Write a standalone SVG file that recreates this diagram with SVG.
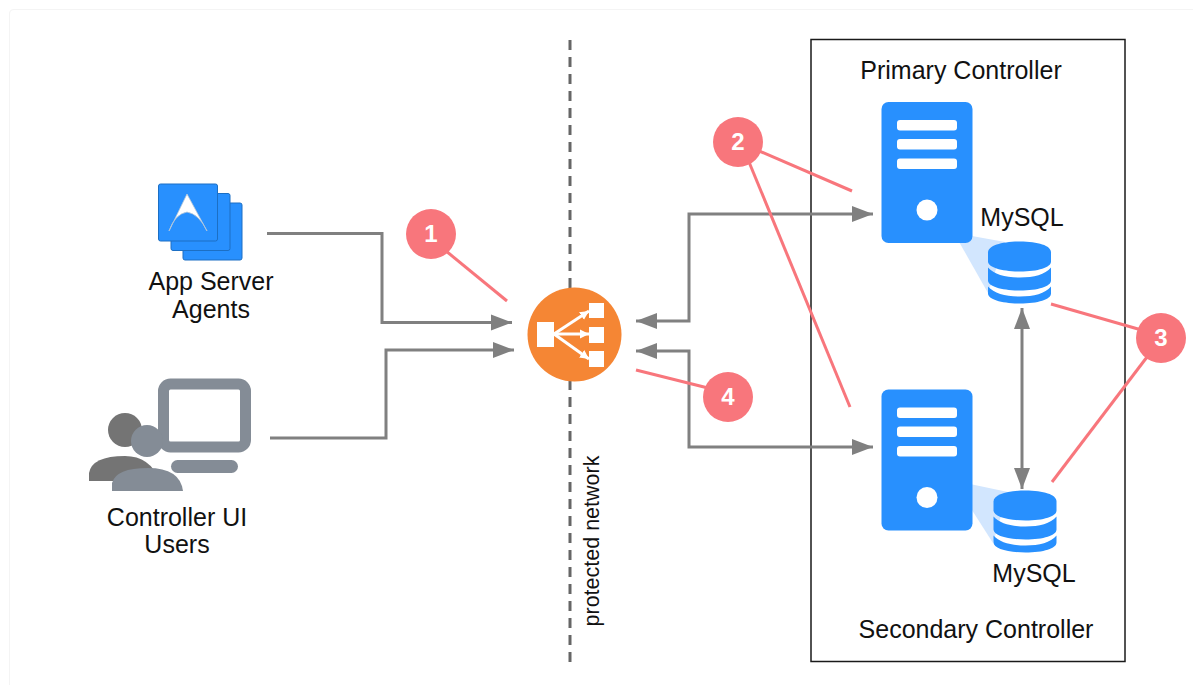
<svg xmlns="http://www.w3.org/2000/svg" width="1193" height="685" viewBox="0 0 1193 685">
<style>
text{font-family:"Liberation Sans",Arial,sans-serif;fill:#111;font-size:25px;text-anchor:middle}
.conn{fill:none;stroke:#808080;stroke-width:3}
.red{fill:none;stroke:#f8767c;stroke-width:3}
.badge circle{fill:#f8767c}
.badge text{fill:#fff;font-weight:bold;font-size:24px}
.blue{fill:#2890fe}
.white{fill:#fff}
.halo{fill:#d2e6fe}
.grey{fill:#848c96}
.dark{fill:#747474}
.fan{stroke:#fff;stroke-width:3;fill:none}
</style>
<defs>
<marker id="arr" markerUnits="userSpaceOnUse" markerWidth="22" markerHeight="18" refX="21" refY="9" orient="auto-start-reverse"><path d="M0 1L21 9L0 17z" fill="#808080"/></marker>
<marker id="tiny" markerUnits="userSpaceOnUse" markerWidth="10" markerHeight="10" refX="9" refY="5" orient="auto"><path d="M0 0.500L9 5L0 9.500z" fill="#fff"/></marker>
<g id="srv">
<rect x="0" y="0" width="91" height="141" rx="7" class="blue"/>
<rect x="15.500" y="18" width="60" height="10.500" rx="3" class="white"/>
<rect x="15.500" y="37" width="60" height="10.500" rx="3" class="white"/>
<rect x="15.500" y="56.500" width="60" height="10.500" rx="3" class="white"/>
<circle cx="45.500" cy="108" r="10.500" class="white"/>
</g>
<g id="db">
<path d="M0 11C0 4 14 0 32 0S63 4 63 11V20C63 26 50 30 32 30S0 26 0 20z" class="blue"/>
<path d="M0 26C6 33 18 36 32 36S57 33 63 26V39C63 45 50 49 32 49S0 45 0 39z" class="blue"/>
<path d="M0 45C6 52 18 55 32 55S57 52 63 45V52C63 58 50 62 32 62S0 58 0 52z" class="blue"/>
</g>
</defs>
<rect width="1193" height="685" fill="#fff"/>
<path d="M9.500 685V14Q9.500 9.500 14 9.500H1193" fill="none" stroke="#f4f4f4" stroke-width="1"/>

<g id="boundary">
<rect x="811" y="39.500" width="314" height="622" fill="none" stroke="#1a1a1a" stroke-width="1.500"/>
<line x1="570" y1="40" x2="570" y2="662" stroke="#666" stroke-width="3" stroke-dasharray="10 7"/>
<text x="595" y="541" transform="rotate(-90 595 541)" style="font-size:21.500px" dy="4">protected network</text>
</g>

<g id="connectors">
<path class="conn" d="M267 233.500H382V322.500H512" marker-end="url(#arr)"/>
<path class="conn" d="M270 438H386V350H514" marker-end="url(#arr)"/>
<path class="conn" d="M636 321H689V214H873" marker-start="url(#arr)" marker-end="url(#arr)"/>
<path class="conn" d="M636 351H689V447H873" marker-start="url(#arr)" marker-end="url(#arr)"/>
<path class="conn" d="M1022 308V489" marker-start="url(#arr)" marker-end="url(#arr)"/>
<path class="red" d="M446 251L507 301"/>
<path class="red" d="M757 150L852 191"/>
<path class="red" d="M749 162L850 407"/>
<path class="red" d="M1051 304L1145 331"/>
<path class="red" d="M1052 482L1147 357"/>
<path class="red" d="M636 370L712 389"/>
</g>

<g id="agents">
<rect x="183" y="203" width="59" height="57" rx="2" class="blue" stroke="#1c6fc4"/>
<rect x="171" y="193.500" width="59" height="57" rx="2" class="blue" stroke="#1c6fc4"/>
<rect x="158.500" y="184" width="59" height="57" rx="2" class="blue" stroke="#1c6fc4"/>
<path d="M187 194L207 231Q199 214 187 212Q175 214 169 231z" fill="#fff" stroke="#b8c8d8" stroke-width="0.800"/>
<text x="211" y="290">App Server</text>
<text x="211" y="318">Agents</text>
</g>

<g id="users">
<rect x="163.500" y="384" width="82" height="63" rx="7" fill="#fff" stroke="#848c96" stroke-width="11"/>
<rect x="171" y="460" width="67" height="13" rx="6.500" class="grey"/>
<circle cx="125" cy="430" r="17" class="dark"/>
<path d="M89 481V473Q92 456 125 456Q150 456 160 481z" class="dark"/>
<circle cx="147" cy="441" r="16" class="grey"/>
<path d="M112 491V483Q116 468 148 468Q180 468 183 491z" class="grey"/>
<text x="177" y="526">Controller UI</text>
<text x="177" y="553">Users</text>
</g>

<g id="lb">
<circle cx="574.500" cy="334.500" r="47" fill="#f58634"/>
<g fill="#fff">
<rect x="537" y="322" width="17" height="25"/>
<rect x="589" y="303" width="15" height="15"/>
<rect x="589" y="327" width="15" height="16"/>
<rect x="589" y="351" width="15" height="16"/>
</g>
<path class="fan" d="M554 334L589 311" marker-end="url(#tiny)"/>
<path class="fan" d="M554 334H589" marker-end="url(#tiny)"/>
<path class="fan" d="M554 334L589 359" marker-end="url(#tiny)"/>
</g>

<g id="primary">
<text x="961" y="79">Primary Controller</text>
<path d="M958 240L972 236L1005 242L988 293z" class="halo"/>
<use href="#srv" x="881.500" y="102"/>
<use href="#db" x="988" y="241.500"/>
<text x="1022" y="226">MySQL</text>
</g>

<g id="secondary">
<path d="M970 484L1008 492L993 543L970 507z" class="halo"/>
<use href="#srv" x="881.500" y="389.500"/>
<use href="#db" x="993.500" y="490.500"/>
<text x="1034" y="582">MySQL</text>
<text x="976" y="638">Secondary Controller</text>
</g>

<g class="badge" id="badge1"><circle cx="431" cy="234" r="25"/><text x="431" y="242">1</text></g>
<g class="badge" id="badge2"><circle cx="738" cy="142" r="25"/><text x="738" y="150">2</text></g>
<g class="badge" id="badge3"><circle cx="1161" cy="338" r="25"/><text x="1161" y="346">3</text></g>
<g class="badge" id="badge4"><circle cx="728" cy="397" r="25"/><text x="728" y="405">4</text></g>
</svg>
